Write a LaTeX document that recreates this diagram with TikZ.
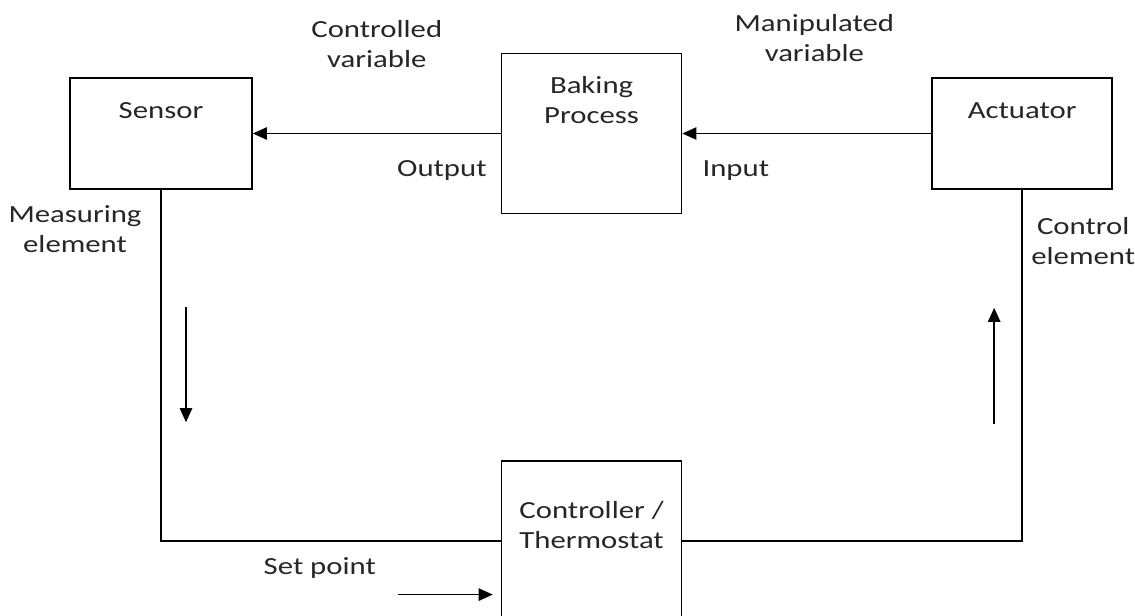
\documentclass[tikz,border=0pt]{standalone}
\usepackage{fontspec}
\setmainfont{Carlito}[FakeStretch=1.25]
\usepackage{tikz}
\usetikzlibrary{arrows.meta,positioning}

\begin{document}
\begin{tikzpicture}[
        node distance=4.96cm,
        block/.style={rectangle, draw=black, line width=0.9pt, minimum width=3.6cm, minimum height=3.2cm, inner sep=0pt},
        smallblock/.style={block, minimum height=2.22cm},
        boxtext/.style={inner sep=0pt, align=center, text=black!85, font=\fontsize{14}{17}\selectfont},
        lbl/.style={align=center, text=black!85, font=\fontsize{14}{17}\selectfont},
        wire/.style={draw, line width=0.9pt},
        flow/.style={wire, -{Triangle[length=8pt,width=7pt]}}
    ]
        \useasboundingbox (0,0) rectangle (22.7,-12.3);

        % Blocks
        \node[smallblock, minimum width=3.64cm] (SEN) at (3.22,-2.67) {};
        \node[block, right=of SEN] (BAK) {};
        \node[smallblock, right=4.98cm of BAK] (ACT) {};
        \node[block, below=4.92cm of BAK] (CTL) {};

        % Block texts
        \node[boxtext, below=0.5cm of SEN.north] (SENt) {Sensor};
        \node[boxtext, below=0.46cm of BAK.north] (BAKt) {Baking\\Process};
        \node[boxtext, below=0.5cm of ACT.north] (ACTt) {Actuator};
        \node[boxtext, below=0.82cm of CTL.north] (CTLt) {Controller /\\Thermostat};

        % Signal paths
        \draw[flow] (BAK.west) -- node[lbl, above=1.18cm] (CV) {Controlled\\variable} (SEN.east);
        \draw[flow] (ACT.west) -- node[lbl, above=1.3cm, xshift=0.15cm] (MV) {Manipulated\\variable} (BAK.east);
        \draw[wire] (SEN.south) |- (CTL.west);
        \draw[wire] (CTL.east) -| (ACT.south);

        % Direction arrows
        \coordinate (dnA) at ([xshift=0.5cm, yshift=-2.35cm]SEN.south);
        \coordinate (dnB) at ([xshift=0.5cm, yshift=-4.65cm]SEN.south);
        \draw[flow] (dnA) -- (dnB);
        \coordinate (upA) at ([xshift=-0.56cm, yshift=-4.68cm]ACT.south);
        \coordinate (upB) at ([xshift=-0.56cm, yshift=-2.36cm]ACT.south);
        \draw[flow] (upA) -- (upB);
        \coordinate (spA) at ([xshift=-2.06cm, yshift=-1.07cm]CTL.west);
        \coordinate (spB) at ([xshift=-0.16cm, yshift=-1.07cm]CTL.west);
        \draw[flow] (spA) -- (spB);

        % Labels
        \node[lbl, anchor=base east] (OUT) at ([xshift=-0.16cm, yshift=-0.85cm]BAK.west) {Output};
        \node[lbl, anchor=base west] (IN) at ([xshift=0.28cm, yshift=-0.85cm]BAK.east) {Input};
        \node[lbl] (MEAS) at ([xshift=-1.72cm, yshift=-0.78cm]SEN.south) {Measuring\\element};
        \node[lbl] (CEL) at ([xshift=1.22cm, yshift=-1.02cm]ACT.south) {Control\\element};
        \node[lbl, anchor=base] (SP) at ([xshift=-3.62cm, yshift=-0.66cm]CTL.west) {Set point};

    \end{tikzpicture}
\end{document}
